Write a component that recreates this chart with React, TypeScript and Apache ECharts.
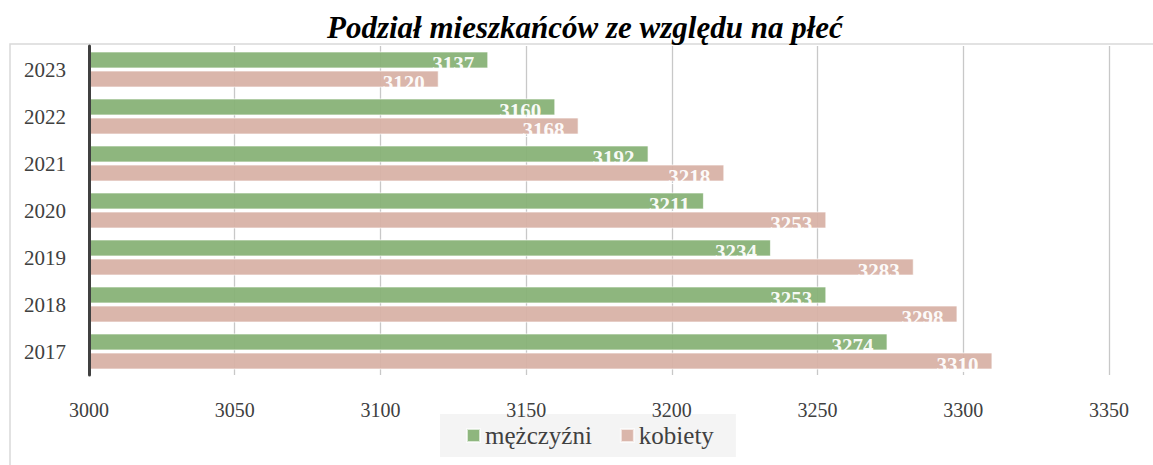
import React, { useEffect, useRef } from "react";
import * as echarts from "echarts";

const years = ["2017", "2018", "2019", "2020", "2021", "2022", "2023"];
const men = [3274, 3253, 3234, 3211, 3192, 3160, 3137];
const women = [3310, 3298, 3283, 3253, 3218, 3168, 3120];
const seriesNames = ["mężczyźni", "kobiety"];
const titleText = "Podział mieszkańców ze względu na płeć";

const SERIF = "'Liberation Serif', 'DejaVu Serif', serif";

export default function App() {
  const ref = useRef<HTMLDivElement>(null);
  useEffect(() => {
    if (!ref.current) return;
    const chart = echarts.init(ref.current, null, { renderer: "svg" });
    const label = {
      show: true,
      position: "insideRight",
      distance: 14,
      offset: [0, 4],
      color: "#ffffff",
      fontFamily: SERIF,
      fontSize: 21,
      fontWeight: 600,
    };
    chart.setOption({
      animation: false,
      backgroundColor: "#ffffff",
      title: {
        text: titleText,
        left: 322,
        top: 7,
        textStyle: {
          fontFamily: "'Liberation Serif', serif",
          fontStyle: "italic",
          fontWeight: "bold",
          fontSize: 31,
          color: "#000000",
        },
      },
      graphic: [
        {
          type: "rect",
          shape: { x: 10, y: 44, width: 1160, height: 440 },
          style: { fill: "none", stroke: "#D9D9D9", lineWidth: 1.5 },
          silent: true,
          z: -1,
        },
      ],
      legend: {
        data: seriesNames,
        bottom: 8,
        left: 440,
        z: 0,
        itemWidth: 13,
        itemHeight: 13,
        itemGap: 28,
        backgroundColor: "#F4F4F4",
        padding: [9, 22, 9, 26],
        icon: "rect",
        textStyle: {
          fontFamily: SERIF,
          fontSize: 25,
          color: "#404040",
        },
      },
      grid: { left: 89, right: 44, top: 46, bottom: 90, containLabel: false },
      xAxis: {
        type: "value",
        min: 3000,
        max: 3350,
        interval: 50,
        z: 1,
        axisLine: { show: false },
        axisTick: { show: false },
        splitLine: { show: true, lineStyle: { color: "#C8C8C8", width: 1.3 } },
        axisLabel: {
          margin: 25,
          fontFamily: SERIF,
          fontSize: 20,
          color: "#404040",
          formatter: (v: number) => String(v),
        },
      },
      yAxis: {
        type: "category",
        data: years,
        z: 10,
        axisLine: { show: true, onZero: false, lineStyle: { color: "#404040", width: 3 } },
        axisTick: { show: false },
        axisLabel: {
          margin: 23,
          fontFamily: SERIF,
          fontSize: 21,
          color: "#404040",
        },
      },
      series: [
        {
          name: seriesNames[0],
          type: "bar",
          data: men,
          barWidth: 17,
          barGap: "12%",
          itemStyle: { color: "#88B277", borderColor: "rgba(255,255,255,0.7)", borderWidth: 1, opacity: 0.95 },
          label,
        },
        {
          name: seriesNames[1],
          type: "bar",
          data: women,
          barWidth: 17,
          barGap: "12%",
          itemStyle: { color: "#D8B2A6", borderColor: "rgba(255,255,255,0.7)", borderWidth: 1, opacity: 0.95 },
          label,
        },
      ],
    });
    return () => chart.dispose();
  }, []);
  return (
    <div
      ref={ref}
      style={{ position: "fixed", left: 0, top: 0, width: 1153, height: 465 }}
    />
  );
}
